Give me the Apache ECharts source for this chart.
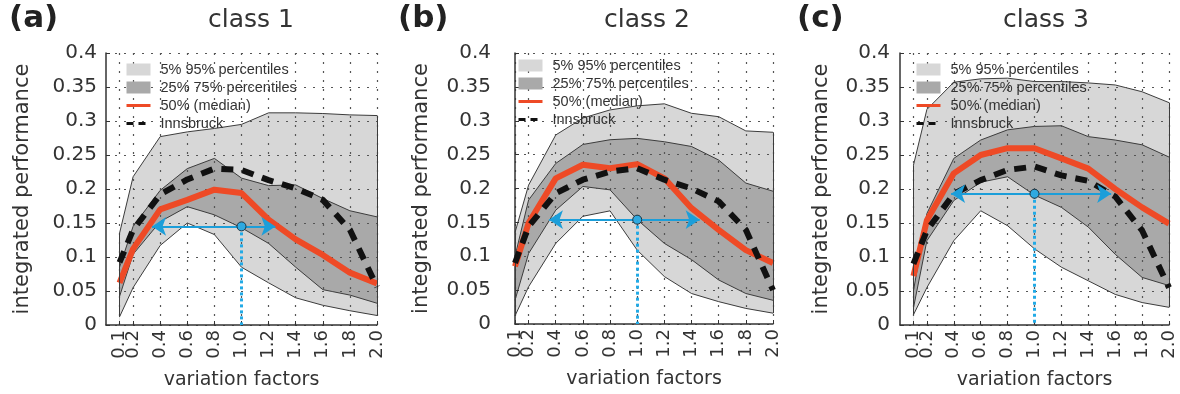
<!DOCTYPE html>
<html>
<head>
<meta charset="utf-8">
<title>integrated performance vs variation factors</title>
<script src="https://cdn.jsdelivr.net/npm/echarts@6/dist/echarts.min.js"></script>
<style>
  html, body { margin: 0; padding: 0; background: #fff; }
  #chart { width: 1180px; height: 394px; }
</style>
</head>
<body>
<div id="chart"></div>
<script>
  // x values (variation factors) and the tick labels shown on x
  const factors = [0.1, 0.2, 0.4, 0.6, 0.8, 1.0, 1.2, 1.4, 1.6, 1.8, 2.0];
  const xTicks = [0.1, 0.2, 0.4, 0.6, 0.8, 1.0, 1.2, 1.4, 1.6, 1.8, 2.0];

  // class 1
  const c1P95 = [0.135, 0.218, 0.277, 0.284, 0.289, 0.295, 0.312, 0.312, 0.311, 0.309, 0.308];
  const c1P75 = [0.085, 0.145, 0.198, 0.230, 0.245, 0.216, 0.205, 0.206, 0.186, 0.168, 0.159];
  const c1P50 = [0.062, 0.112, 0.170, 0.184, 0.199, 0.194, 0.155, 0.126, 0.103, 0.077, 0.061];
  const c1P25 = [0.042, 0.104, 0.152, 0.174, 0.162, 0.143, 0.120, 0.085, 0.052, 0.044, 0.032];
  const c1P5 = [0.012, 0.055, 0.117, 0.150, 0.133, 0.085, 0.062, 0.040, 0.029, 0.021, 0.014];
  const c1Inn = [0.092, 0.140, 0.192, 0.214, 0.230, 0.228, 0.213, 0.201, 0.184, 0.140, 0.056];

  // class 2
  const c2P95 = [0.135, 0.205, 0.279, 0.304, 0.316, 0.322, 0.325, 0.311, 0.306, 0.285, 0.283];
  const c2P75 = [0.100, 0.183, 0.237, 0.265, 0.272, 0.274, 0.269, 0.262, 0.242, 0.208, 0.196];
  const c2P50 = [0.085, 0.149, 0.215, 0.235, 0.230, 0.236, 0.215, 0.171, 0.139, 0.109, 0.090];
  const c2P25 = [0.035, 0.104, 0.168, 0.203, 0.198, 0.154, 0.119, 0.095, 0.065, 0.045, 0.035];
  const c2P5 = [0.012, 0.055, 0.119, 0.159, 0.167, 0.109, 0.070, 0.045, 0.033, 0.023, 0.016];
  const c2Inn = [0.090, 0.144, 0.193, 0.213, 0.225, 0.230, 0.213, 0.200, 0.181, 0.139, 0.050];

  // class 3
  const c3P95 = [0.235, 0.317, 0.357, 0.362, 0.363, 0.358, 0.358, 0.356, 0.353, 0.343, 0.327];
  const c3P75 = [0.050, 0.164, 0.245, 0.272, 0.287, 0.292, 0.293, 0.277, 0.272, 0.265, 0.247];
  const c3P50 = [0.072, 0.154, 0.223, 0.250, 0.260, 0.260, 0.245, 0.230, 0.200, 0.173, 0.149];
  const c3P25 = [0.025, 0.124, 0.183, 0.210, 0.218, 0.191, 0.173, 0.144, 0.104, 0.070, 0.058];
  const c3P5 = [0.015, 0.055, 0.124, 0.168, 0.146, 0.112, 0.085, 0.065, 0.045, 0.033, 0.026];
  const c3Inn = [0.090, 0.139, 0.193, 0.213, 0.228, 0.233, 0.220, 0.212, 0.189, 0.139, 0.055];

  // blue range marker: level, left end, right end, reference factor
  const rangeY = [0.145, 0.154, 0.193];
  const rangeFrom = [0.34, 0.35, 0.38];
  const rangeTo = [1.25, 1.46, 1.57];
  const refFactor = 1.0;

  const LIGHT = '#d7d7d7', DARK = '#a9a9a9', EDGE = '#3c3c3c';
  const RED = '#ee4a26', BLACK = '#111', BLUE = '#1c9ed9';
  const TXT = '#333';

  const panels = [
    {tag: '(a)', title: 'class 1', p95: c1P95, p75: c1P75, p50: c1P50, p25: c1P25, p5: c1P5, inn: c1Inn,
     grid: {left: 106, top: 53, width: 271, height: 272}, xMin: 0, tagX: 9, titleX: 251,
     yMargin: 9, yNameGap: 73, legend: [125, 62]},
    {tag: '(b)', title: 'class 2', p95: c2P95, p75: c2P75, p50: c2P50, p25: c2P25, p5: c2P5, inn: c2Inn,
     grid: {left: 515, top: 53, width: 258, height: 271}, xMin: 0.1, tagX: 398, titleX: 647,
     yMargin: 24, yNameGap: 83, legend: [517, 58]},
    {tag: '(c)', title: 'class 3', p95: c3P95, p75: c3P75, p50: c3P50, p25: c3P25, p5: c3P5, inn: c3Inn,
     grid: {left: 900, top: 53, width: 269, height: 272}, xMin: 0, tagX: 797, titleX: 1046,
     yMargin: 10, yNameGap: 68, legend: [915, 62]}
  ];

  const pairs = vals => factors.map((f, k) => [f, vals[k]]);

  // filled band edge, painted top to bottom so each fill covers the one below it
  function band(name, vals, fill, gi) {
    return {
      type: 'line', name: name, xAxisIndex: gi, yAxisIndex: gi,
      data: pairs(vals), symbol: 'none', z: 1, silent: true, color: fill,
      lineStyle: {color: EDGE, width: 1},
      areaStyle: {color: fill, opacity: 1, origin: 'start'}
    };
  }

  const series = [];
  panels.forEach((p, gi) => {
    const last = factors.length - 1;
    series.push(band('5% 95% percentiles', p.p95, LIGHT, gi));
    series.push(band('25% 75% percentiles', p.p75, DARK, gi));
    series.push(band('p25', p.p25, LIGHT, gi));
    const low = band('p5', p.p5, '#ffffff', gi);
    low.markLine = {
      silent: true, symbol: 'none', label: {show: false},
      lineStyle: {color: EDGE, width: 1, type: 'solid'},
      data: [
        [{coord: [factors[0], p.p5[0]]}, {coord: [factors[0], p.p95[0]]}],
        [{coord: [factors[last], p.p5[last]]}, {coord: [factors[last], p.p95[last]]}]
      ]
    };
    series.push(low);
    series.push({
      type: 'line', name: '50% (median)', xAxisIndex: gi, yAxisIndex: gi,
      data: pairs(p.p50), symbol: 'none', z: 4, color: RED,
      lineStyle: {color: RED, width: 6}
    });
    series.push({
      type: 'line', name: 'Innsbruck', xAxisIndex: gi, yAxisIndex: gi,
      data: pairs(p.inn), symbol: 'none', z: 5, color: BLACK,
      lineStyle: {color: BLACK, width: 6, type: [12, 9]}
    });
    series.push({
      type: 'scatter', name: 'ref', xAxisIndex: gi, yAxisIndex: gi, z: 7,
      data: [[refFactor, rangeY[gi]]], symbolSize: 9,
      itemStyle: {color: '#2fa9e0', borderColor: '#1c3442', borderWidth: 1, opacity: 1},
      markLine: {
        silent: true, symbol: 'none', label: {show: false}, z: 6,
        data: [
          [{coord: [rangeFrom[gi], rangeY[gi]], symbol: 'arrow', symbolSize: 14,
            lineStyle: {color: BLUE, width: 2, type: 'solid'}},
           {coord: [rangeTo[gi], rangeY[gi]], symbol: 'arrow', symbolSize: 14}],
          [{coord: [refFactor, rangeY[gi]], lineStyle: {color: '#22aae6', width: 3, type: [3, 3]}},
           {coord: [refFactor, 0]}]
        ]
      }
    });
  });

  const labelFont = {fontFamily: 'DejaVu Sans', color: TXT};
  const xLabel = values => Object.assign({fontSize: 18, rotate: 90, margin: 5, hideOverlap: false,
    customValues: values, formatter: v => v.toFixed(1)}, labelFont);

  // main x axes carry line, grid and most labels; the first tick label sits on
  // an extra bare axis so the crowded 0.1 / 0.2 pair both stay visible
  const mainX = panels.map((p, gi) => ({
    type: 'value', gridIndex: gi, min: p.xMin, max: 2.0, z: 2,
    name: 'variation factors', nameLocation: 'middle', nameGap: 46,
    nameTextStyle: Object.assign({fontSize: 19}, labelFont),
    axisLine: {show: true, onZero: false, lineStyle: {color: TXT, width: 1.5}},
    axisTick: {show: true, inside: true, length: 4, customValues: xTicks, lineStyle: {color: TXT}},
    axisLabel: xLabel(xTicks.slice(1)),
    splitLine: {show: true, lineStyle: {color: '#555', width: 1.2, type: [2, 7]}}
  }));
  const firstX = panels.map((p, gi) => ({
    type: 'value', gridIndex: gi, min: p.xMin, max: 2.0, z: 2, position: 'bottom',
    axisLine: {show: false, onZero: false}, axisTick: {show: false}, splitLine: {show: false},
    axisLabel: Object.assign(xLabel(xTicks.slice(0, 1)), {showMinLabel: true})
  }));

  const option = {
    animation: false,
    backgroundColor: '#fff',
    grid: panels.map(p => Object.assign({containLabel: false, outerBoundsMode: 'none'}, p.grid)),
    xAxis: mainX.concat(firstX),
    yAxis: panels.map((p, gi) => ({
      type: 'value', gridIndex: gi, min: 0, max: 0.4, interval: 0.05, z: 2,
      name: 'integrated performance', nameLocation: 'middle', nameGap: p.yNameGap,
      nameTextStyle: Object.assign({fontSize: 21}, labelFont),
      axisLine: {show: true, onZero: false, lineStyle: {color: TXT, width: 1.5}},
      axisTick: {show: true, inside: true, length: 4, lineStyle: {color: TXT}},
      axisLabel: Object.assign({fontSize: 20, margin: p.yMargin, hideOverlap: false}, labelFont),
      splitLine: {show: true, lineStyle: {color: '#555', width: 1.2, type: [2, 7]}}
    })),
    legend: panels.map(p => ({
      left: p.legend[0], top: p.legend[1], orient: 'vertical', selectedMode: false,
      itemWidth: 24, itemHeight: 12, itemGap: 3, padding: 0, z: 8,
      textStyle: {fontFamily: 'Liberation Sans', fontSize: 14.5, color: TXT, lineHeight: 12, padding: [0, 0, 0, 5]},
      data: [
        {name: '5% 95% percentiles', icon: 'rect', itemStyle: {color: LIGHT, borderWidth: 0}},
        {name: '25% 75% percentiles', icon: 'rect', itemStyle: {color: DARK, borderWidth: 0}},
        {name: '50% (median)', itemStyle: {opacity: 0}, lineStyle: {color: RED, width: 3}},
        {name: 'Innsbruck', itemStyle: {opacity: 0}, lineStyle: {color: BLACK, width: 3, type: [7, 5]}}
      ]
    })),
    graphic: panels.flatMap(p => [
      {type: 'text', left: p.tagX, top: 3,
       style: {text: p.tag, font: 'bold 31px "DejaVu Sans"', fill: '#222'}},
      {type: 'text', x: p.titleX, y: 8,
       style: {text: p.title, font: '25px "DejaVu Sans"', fill: TXT,
               align: 'center', textAlign: 'center', verticalAlign: 'top', textVerticalAlign: 'top'}}
    ]),
    series: series
  };

  const chart = echarts.init(document.getElementById('chart'));
  chart.setOption(option);
</script>
</body>
</html>
